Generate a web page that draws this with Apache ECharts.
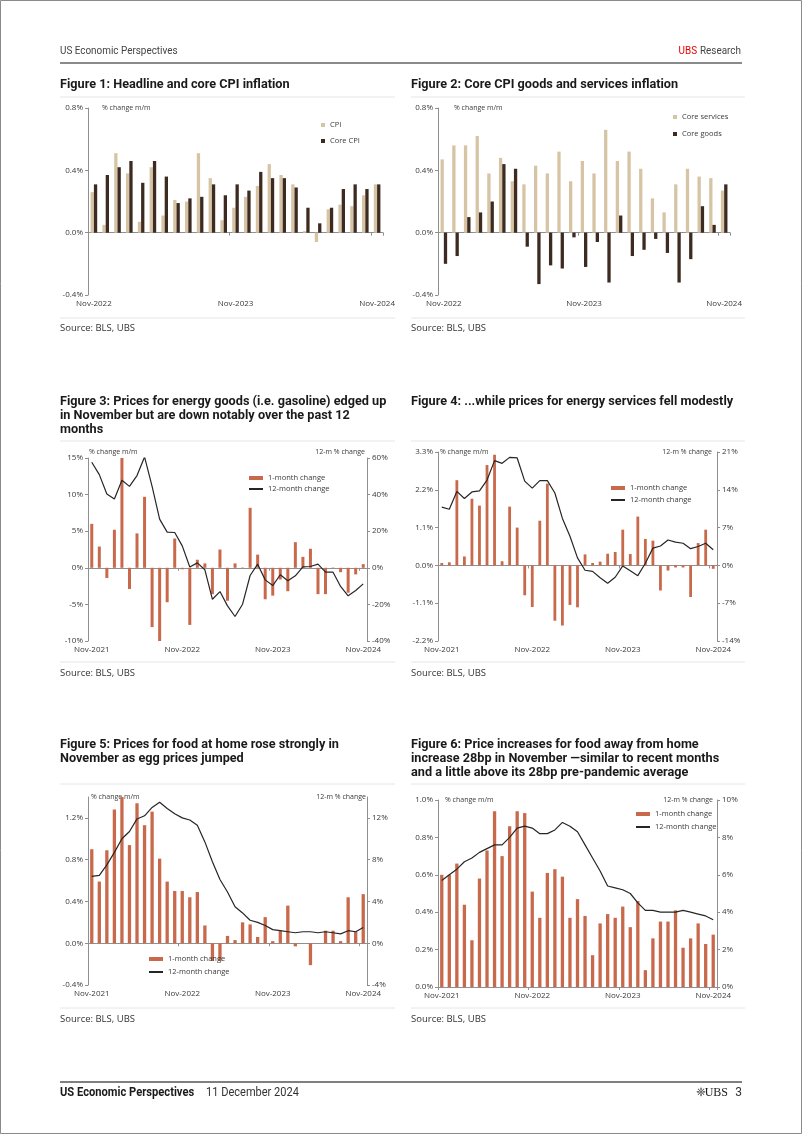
<!DOCTYPE html>
<html><head><meta charset="utf-8">
<script src="https://cdn.jsdelivr.net/npm/echarts@6/dist/echarts.min.js"></script>
<style>html,body{margin:0;padding:0;background:#fff}#c{width:802px;height:1134px}</style>
</head><body><div id="c"></div><script>
// ---------- categories & tick labels ----------
const months37 = ['Nov-2021','Dec-2021','Jan-2022','Feb-2022','Mar-2022','Apr-2022','May-2022','Jun-2022','Jul-2022','Aug-2022','Sep-2022','Oct-2022','Nov-2022','Dec-2022','Jan-2023','Feb-2023','Mar-2023','Apr-2023','May-2023','Jun-2023','Jul-2023','Aug-2023','Sep-2023','Oct-2023','Nov-2023','Dec-2023','Jan-2024','Feb-2024','Mar-2024','Apr-2024','May-2024','Jun-2024','Jul-2024','Aug-2024','Sep-2024','Oct-2024','Nov-2024'];
const months25 = months37.slice(12);
const ticks37 = ['Nov-2021','Nov-2022','Nov-2023','Nov-2024'];
const ticks25 = ['Nov-2022','Nov-2023','Nov-2024'];

// ---------- Figure 1 ----------
const cpi = [0.26,0.05,0.51,0.38,0.07,0.42,0.11,0.21,0.20,0.51,0.35,0.08,0.16,0.23,0.30,0.44,0.37,0.31,0.01,-0.06,0.15,0.18,0.17,0.24,0.31];
const coreCpi = [0.31,0.37,0.42,0.46,0.32,0.46,0.36,0.19,0.22,0.23,0.31,0.24,0.31,0.27,0.39,0.35,0.35,0.29,0.16,0.06,0.16,0.28,0.31,0.28,0.31];
// ---------- Figure 2 ----------
const coreServices = [0.47,0.56,0.56,0.62,0.38,0.48,0.33,0.31,0.43,0.38,0.52,0.33,0.46,0.38,0.66,0.46,0.52,0.41,0.22,0.13,0.31,0.41,0.36,0.35,0.27];
const coreGoods = [-0.20,-0.15,0.10,0.13,0.20,0.44,0.41,-0.09,-0.33,-0.21,-0.23,-0.03,-0.22,-0.06,-0.32,0.11,-0.15,-0.11,-0.04,-0.13,-0.32,-0.17,0.17,0.05,0.31];
// ---------- Figure 3 ----------
const energyGoods1m = [6.0,2.9,-1.4,5.2,15.0,-2.9,4.7,9.7,-8.1,-10.0,-4.7,4.0,-0.2,-7.8,1.1,0.6,-3.6,2.5,-4.5,0.6,0.05,8.2,1.8,-4.3,-3.8,-1.6,-3.2,3.5,1.5,2.6,-3.6,-3.6,0.05,-0.6,-3.4,-0.9,0.5];
const energyGoods12m = [57.7,50.9,40.3,37.6,47.8,44.5,50.4,60.6,44.5,26.6,19.5,19.3,12.0,0.4,2.7,-1.1,-17.2,-13.0,-20.8,-26.6,-19.9,-4.2,2.0,-6.6,-9.7,-3.8,-7.1,-4.4,0.5,0.7,2.0,-2.4,-2.4,-10.2,-15.3,-12.4,-8.8];
// ---------- Figure 4 ----------
const energyServ1m = [0.07,0.09,2.48,0.26,1.94,1.74,2.92,3.22,0.12,1.71,1.10,-0.87,-1.21,1.30,2.38,-1.61,-1.75,-1.15,-1.22,0.32,0.07,0.11,0.34,0.39,1.04,0.33,1.42,0.77,0.72,-0.73,-0.15,-0.06,-0.06,-0.92,0.65,1.04,-0.10];
const energyServ12m = [10.8,10.4,13.7,12.4,13.6,13.8,15.8,19.4,18.9,20.0,19.9,15.6,14.3,15.7,15.7,13.4,8.7,5.4,1.4,-0.9,-1.1,-2.3,-3.3,-2.2,-0.1,-1.0,-1.9,0.4,3.2,3.6,4.7,4.3,4.1,3.1,3.5,4.1,2.9];
// ---------- Figure 5 ----------
const foodHome1m = [0.90,0.59,0.89,1.28,1.40,0.94,1.34,1.13,1.26,0.81,0.59,0.50,0.50,0.44,0.49,0.17,-0.17,-0.17,0.07,0.03,0.20,0.18,0.06,0.25,0.02,0.12,0.36,-0.03,0.00,-0.21,0.00,0.12,0.12,0.02,0.44,0.11,0.47];
const foodHome12m = [6.4,6.5,7.5,8.7,10.0,10.7,11.9,12.2,13.0,13.5,12.9,12.4,12.0,11.8,11.3,9.7,7.8,6.1,4.9,3.5,2.9,2.2,2.0,1.7,1.3,1.2,1.1,1.0,1.1,1.1,1.0,1.1,1.0,0.9,1.2,1.1,1.5];
// ---------- Figure 6 ----------
const foodAway1m = [0.60,0.60,0.66,0.44,0.25,0.58,0.73,0.94,0.70,0.86,0.94,0.93,0.51,0.37,0.61,0.63,0.59,0.37,0.47,0.38,0.17,0.34,0.39,0.37,0.43,0.32,0.46,0.09,0.26,0.35,0.35,0.41,0.21,0.26,0.34,0.23,0.28];
const foodAway12m = [5.7,6.0,6.3,6.7,6.9,7.2,7.4,7.6,7.6,8.0,8.5,8.6,8.5,8.2,8.2,8.4,8.8,8.6,8.3,7.6,6.9,6.2,5.4,5.3,5.2,5.0,4.5,4.1,4.1,4.0,4.0,4.0,4.1,4.0,3.9,3.8,3.6];

// ---------- styling ----------
const AX = '#8f8f8f', TXT = '#3a3a3a', F = "'Open Sans', sans-serif";
const TF = "Roboto, sans-serif";
const LIGHT = '#d6c4a5', DARK = '#3d2b21', ORANGE = '#c8694b', LINE = '#262626';
const grids = [
  {left:88, top:108, width:295, height:187},
  {left:438, top:108, width:292, height:187},
  {left:88, top:458, width:279, height:183},
  {left:438, top:452, width:279, height:189},
  {left:88, top:797, width:279, height:188},
  {left:438, top:800, width:279, height:187}
];
const clean = v => (Math.abs(v) < 1e-9 ? 0 : v);
const f1 = v => clean(v).toFixed(1) + '%';
const f0 = v => Math.round(clean(v)) + '%';

const xAxes = [], yAxes = [];
function addX(g, cats, ticks) {
  xAxes.push({type:'category', gridIndex:g, data:cats, position:'bottom',
    axisLine:{show:true, onZero:true, lineStyle:{color:AX, width:1}},
    axisTick:{show:true, interval:11, length:3, lineStyle:{color:AX}},
    axisLabel:{show:false}, splitLine:{show:false}});
  xAxes.push({type:'category', gridIndex:g, data:cats, position:'bottom',
    axisLine:{show:false, onZero:false}, axisTick:{show:false}, splitLine:{show:false},
    axisLabel:{interval:0, margin:5, fontSize:8, fontFamily:F, color:TXT,
      formatter: v => ticks.includes(v) ? v : ''}});
}
function addY(g, pos, min, max, interval, fmt, hideMax) {
  yAxes.push({type:'value', gridIndex:g, position:pos, min, max, interval,
    axisLine:{show:true, lineStyle:{color:AX, width:1}},
    axisTick:{show:true, length:3, lineStyle:{color:AX}},
    splitLine:{show:false},
    axisLabel:{formatter:fmt, fontSize:8, fontFamily:F, color:TXT, margin:5, showMaxLabel: !hideMax}});
}
addX(0, months25, ticks25); addX(1, months25, ticks25);
for (let g = 2; g < 6; g++) addX(g, months37, ticks37);
addY(0,'left',-0.4,0.8,0.4,f1);            // 0
addY(1,'left',-0.4,0.8,0.4,f1);            // 1
addY(2,'left',-10,15,5,f0); addY(2,'right',-40,60,20,f0);      // 2,3
addY(3,'left',-2.2,3.3,1.1,f1); addY(3,'right',-14,21,7,f0);   // 4,5
addY(4,'left',-0.4,1.4,0.4,f1,true); addY(4,'right',-4,14,4,f0,true); // 6,7
addY(5,'left',0,1.0,0.2,f1); addY(5,'right',0,10,2,f0);        // 8,9

const bar = (name, data, xi, yi, color, w, extra) => Object.assign({type:'bar', name, data, xAxisIndex:xi, yAxisIndex:yi,
  barWidth:w, itemStyle:{color}, silent:true, animation:false}, extra || {});
const line = (name, data, xi, yi) => ({type:'line', name, data, xAxisIndex:xi, yAxisIndex:yi, symbol:'none',
  lineStyle:{color:LINE, width:1.2}, itemStyle:{color:LINE}, z:5, silent:true, animation:false});

const series = [
  bar('CPI', cpi, 0, 0, LIGHT, 3.3, {barGap:'0%'}),
  bar('Core CPI', coreCpi, 0, 0, DARK, 3.3, {barGap:'0%'}),
  bar('Core services', coreServices, 2, 1, LIGHT, 3.3, {barGap:'0%'}),
  bar('Core goods', coreGoods, 2, 1, DARK, 3.3, {barGap:'0%'}),
  bar('1-month change', energyGoods1m, 4, 2, ORANGE, 3),
  line('12-month change', energyGoods12m, 4, 3),
  bar('1-month change', energyServ1m, 6, 4, ORANGE, 2.8),
  line('12-month change', energyServ12m, 6, 5),
  bar('1-month change', foodHome1m, 8, 6, ORANGE, 3.3),
  line('12-month change', foodHome12m, 8, 7),
  bar('1-month change', foodAway1m, 10, 8, ORANGE, 3.3),
  line('12-month change', foodAway12m, 10, 9)
];

const legBase = {orient:'vertical', padding:0, selectedMode:false, textStyle:{fontSize:7.5, fontFamily:F, color:TXT}};
const lineItem = {name:'12-month change', icon:'rect', itemStyle:{color:LINE, opacity:0}};
const lgData = [{name:'1-month change', icon:'rect'}, {name:'12-month change', itemStyle:{opacity:0}}];
const legends = [
  Object.assign({}, legBase, {left:321, top:121, itemWidth:4, itemHeight:4, itemGap:8, icon:'rect', data:['CPI','Core CPI']}),
  Object.assign({}, legBase, {left:673, top:113, itemWidth:4, itemHeight:4, itemGap:9, icon:'rect', data:['Core services','Core goods']}),
  Object.assign({}, legBase, {left:248, top:474, itemWidth:14, itemHeight:4, itemGap:3, data:lgData}),
  Object.assign({}, legBase, {left:610, top:484, itemWidth:14, itemHeight:4, itemGap:4, data:lgData}),
  Object.assign({}, legBase, {left:148, top:955, itemWidth:14, itemHeight:4, itemGap:5, data:lgData}),
  Object.assign({}, legBase, {left:635, top:810, itemWidth:14, itemHeight:4, itemGap:5, data:lgData})
];

// ---------- page texts ----------
const g = [];
const txt = (text, x, y, font, fill, align, sx) => g.push({type:'text', silent:true, x, y, scaleX: sx || 1,
  style:{text, font, fill, align: align || 'left', verticalAlign:'middle', textAlign: align || 'left', textVerticalAlign:'middle'}});
const hline = (x1, x2, y, stroke, w) => g.push({type:'line', silent:true, shape:{x1, y1:y, x2, y2:y}, style:{stroke, lineWidth:w}});

g.push({type:'rect', silent:true, shape:{x:0.5, y:0.5, width:801, height:1133}, style:{fill:null, stroke:'#8a8a8a', lineWidth:1}});
txt('US Economic Perspectives', 60, 51, '11px ' + TF, '#444', 'left', 0.9);
g.push({type:'text', silent:true, x:741, y:51, scaleX:0.9, style:{text:'{r|UBS} {k|Research}', align:'right', verticalAlign:'middle', textAlign:'right', textVerticalAlign:'middle',
  rich:{r:{fill:'#e60000', font:'11px ' + TF}, k:{fill:'#444', font:'11px ' + TF}}}});
hline(60, 742, 63, '#8a8a8a', 2);

const TFONT = 'bold 12.7px ' + TF;
txt('Figure 1: Headline and core CPI inflation', 60, 85, TFONT, '#1a1a1a');
txt('Figure 2: Core CPI goods and services inflation', 411, 85, TFONT, '#1a1a1a');
txt('Figure 3: Prices for energy goods (i.e. gasoline) edged up', 60, 402, TFONT, '#1a1a1a');
txt('in November but are down notably over the past 12', 60, 416, TFONT, '#1a1a1a');
txt('months', 60, 430, TFONT, '#1a1a1a');
txt('Figure 4: ...while prices for energy services fell modestly', 411, 402, TFONT, '#1a1a1a');
txt('Figure 5: Prices for food at home rose strongly in', 60, 745, TFONT, '#1a1a1a');
txt('November as egg prices jumped', 60, 759, TFONT, '#1a1a1a');
txt('Figure 6: Price increases for food away from home', 411, 745, TFONT, '#1a1a1a');
txt('increase 28bp in November \u2014similar to recent months', 411, 759, TFONT, '#1a1a1a');
txt('and a little above its 28bp pre-pandemic average', 411, 773, TFONT, '#1a1a1a');

[[97, 318], [441, 662], [784, 1008]].forEach(([a, b]) => {
  hline(60, 395, a, '#e6e6e6', 1); hline(411, 745, a, '#e6e6e6', 1);
  hline(60, 395, b, '#e6e6e6', 1); hline(411, 745, b, '#e6e6e6', 1);
});
const SF = '9.5px ' + F;
[328, 673, 1019].forEach(y => { txt('Source: BLS, UBS', 60, y, SF, '#333'); txt('Source: BLS, UBS', 411, y, SF, '#333'); });

const AF = '7px ' + F;
txt('% change m/m', 102, 108, AF, TXT);
txt('% change m/m', 454, 108, AF, TXT);
txt('% change m/m', 89, 452, AF, TXT); txt('12-m % change', 365, 452, AF, TXT, 'right');
txt('% change m/m', 440, 452, AF, TXT); txt('12-m % change', 712, 452, AF, TXT, 'right');
txt('% change m/m', 91, 797, AF, TXT); txt('12-m % change', 366, 797, AF, TXT, 'right');
txt('% change m/m', 445, 800, AF, TXT); txt('12-m % change', 713, 800, AF, TXT, 'right');

// footer
hline(60, 742, 1082, '#555', 1.5);
txt('US Economic Perspectives', 60, 1093, 'bold 12px ' + TF, '#1a1a1a', 'left', 0.93);
txt('11 December 2024', 206, 1093, '12px ' + TF, '#333', 'left', 0.92);
txt('3', 742, 1093, '12px ' + TF, '#333', 'right');
txt('UBS', 728, 1093, '12px "Liberation Serif", serif', '#1a1a1a', 'right');
txt('\u2748', 706, 1093, '12px "DejaVu Sans"', '#333', 'right');

const chart = echarts.init(document.getElementById('c'), null, {renderer:'canvas', width:802, height:1134});
chart.setOption({
  animation:false,
  backgroundColor:'#fff',
  grid: grids,
  xAxis: xAxes,
  yAxis: yAxes,
  legend: legends,
  series,
  graphic: {elements: g}
});
</script></body></html>
